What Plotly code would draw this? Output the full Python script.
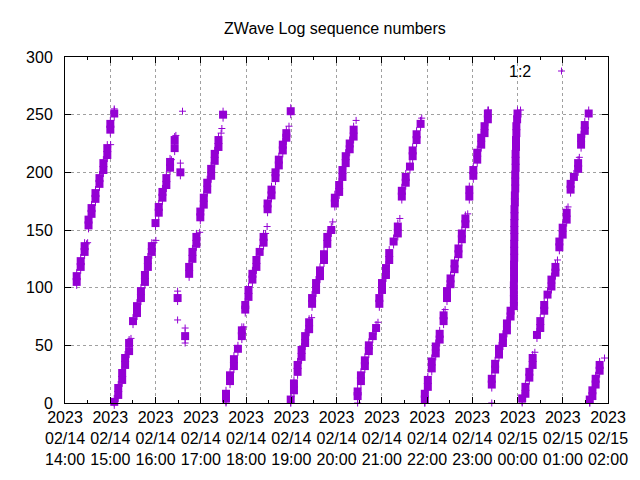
import pandas as pd
import plotly.graph_objects as go

# ---- data ----
# bursts of consecutive sequence numbers: (minutes after 2023-02-14 14:00, centre seq)
burst_min = [
    15.5, 15.5, 20.8, 20.8, 26, 26, 31.2, 31.2, 35.2, 35.2, 40.4, 40.4, 45.7, 45.7, 50.9, 50.9, 56.1, 56.1, 60.1, 60.1, 65.3,
    65.3, 70.6, 70.6, 75.8, 75.8, 79.7, 79.7, 85, 85, 90.2, 95.5, 95.5, 100.7, 100.7, 106, 106, 109.9, 109.9, 115.1, 115.1,
    120, 124.3, 124.3, 129.2, 129.2, 134.4, 134.4, 139.3, 139.3, 145.4, 145.4,
    149.3, 153, 159.3,
    164.6, 164.6, 169, 169, 174.2, 174.2,
    179.4, 179.4, 184, 184, 188.6, 188.6, 193.8, 193.8, 198.5, 198.5, 203.5, 203.5, 209.6,
    213.5, 213.5, 218.8, 218.8, 224, 224, 229.3, 234.5, 234.5, 239, 239, 243.3, 243.3, 248.5, 248.5, 253.8, 253.8, 258.1, 263.3, 263.3,
    268.6, 268.6, 273.8, 273.8, 279.1, 279.1, 283.5, 283.5, 288.8, 288.8, 293.5, 293.5, 299.3,
    299.3, 303.6, 303.6, 308.4, 308.4, 313.7, 313.7, 318.4, 318.4, 323.7, 323.7,
    327.6, 327.6, 332.9, 332.9, 338.1, 338.1, 343.4, 343.4, 347.8, 347.8, 353.1, 357.8, 357.8, 363.5, 363.5, 367.9, 367.9,
    372.2, 372.2, 377.5, 377.5, 382.7, 382.7,
    388, 388, 392.4, 392.4, 397.6, 397.6, 402.9, 402.9, 408.1, 412.5,
    416.8, 416.8, 420.3, 420.3, 425.6, 425.6, 429.9, 429.9, 435.7, 441.3, 441.3,
    446.6, 446.6, 451.8, 451.8, 457.4, 461, 461, 466.2, 466.2, 471.5,
    477.1, 477.1, 481.1, 481.1, 486.3, 486.3, 491.6, 491.6, 496.8, 496.8, 502, 502,
    506.5, 506.5, 511.2, 511.2, 516.5, 516.5, 521.7, 521.7, 526.2, 526.2, 530.9, 530.9,
    536.1, 536.1, 541.4, 541.4, 546.6, 546.6, 551.9, 551.9, 556.3, 556.3, 560.7, 560.7,
    565.9, 565.9, 570.3, 570.3, 575.5, 575.5, 580.7, 580.7, 586, 586, 590.8, 590.8, 595.2,
    595.2, 595.2, 595.2, 595.4, 595.4, 595.4, 595.6, 595.6, 595.6, 595.8, 595.8, 595.8, 596, 596, 596.5, 596.5,
    597, 597, 597, 597.5, 597.5, 597.5, 598, 598, 598.5, 598.5, 599.5, 600,
    606.2, 610.5, 610.5, 615.7, 615.7, 620.1, 620.1,
    625.8, 630.2, 630.2, 635.4, 635.4, 639.8, 645, 645, 650.3, 650.3,
    655.5, 655.5, 659.9, 659.9, 665.2, 665.2,
    670.4, 670.4, 674.8, 680.4, 680.4, 684.3, 684.3, 689.2, 689.2, 694.4,
    695.8, 699.3, 699.3, 703.6, 703.6, 708.9, 708.9,
]
burst_seq = [
    105, 110, 118, 123, 131, 136, 154, 159, 164, 169, 177, 182, 190, 195, 202, 208, 215, 221, 237, 242, 251,
    1, 7, 13, 20, 26, 33, 39, 45, 52, 71, 78, 84, 91, 97, 105, 111, 118, 124, 131, 136,
    156, 165, 170, 178, 183, 189, 195, 204, 209, 221, 228,
    91, 200, 58,
    112, 118, 125, 131, 138, 144,
    161, 166, 172, 178, 185, 191, 197, 203, 210, 216, 222, 228, 250,
    4, 8, 19, 24, 32, 38, 47, 58, 63, 81, 85, 92, 98, 107, 112, 118, 124, 131, 139, 144,
    168, 173, 180, 185, 195, 200, 206, 211, 219, 224, 230, 234, 253,
    3, 11, 17, 27, 33, 40, 46, 52, 58, 64, 70,
    86, 91, 98, 104, 110, 115, 124, 129, 138, 144, 150, 173, 178, 183, 189, 196, 202,
    208, 214, 220, 225, 231, 237,
    6, 10, 19, 24, 32, 37, 45, 50, 58, 65,
    86, 91, 98, 104, 111, 117, 124, 130, 140, 147, 153,
    179, 184, 191, 196, 205, 214, 219, 228, 233, 242,
    3, 8, 14, 20, 30, 36, 43, 49, 55, 60, 71, 76,
    91, 97, 103, 108, 116, 121, 129, 134, 142, 147, 155, 160,
    179, 185, 197, 202, 211, 217, 224, 230, 234, 240, 246, 251,
    16, 21, 29, 34, 42, 47, 52, 57, 63, 69, 75, 80, 84,
    90, 96, 102, 108, 114, 120, 126, 132, 138, 144, 150, 156, 162, 168, 174, 180,
    186, 192, 198, 204, 210, 216, 222, 228, 234, 240, 246, 251,
    4, 8, 14, 22, 27, 33, 39,
    59, 65, 71, 80, 85, 94, 101, 107, 113, 118,
    135, 140, 146, 152, 159, 165,
    185, 190, 196, 203, 208, 224, 230, 236, 241, 251,
    3, 6, 11, 16, 21, 28, 33,
]

# isolated single messages
single_min = [
    28.5, 30, 60.5, 65.3,
    65.3, 87.5, 118, 120.5,
    141, 147,
    149.3, 149.3, 153, 155.8, 159.3, 159.3,
    178.6, 207, 208,
    213.5, 237, 266, 268,
    297,
    299.3, 327,
    355, 386,
    388, 415,
    444, 473,
    477.1, 504, 534, 561.5,
    565.9, 595.2, 604,
    606.2, 623, 653, 667, 682,
    695.8, 715.4,
]
single_seq = [
    138, 139, 224, 255,
    0, 56, 139, 141,
    211, 232,
    97, 72, 208, 253, 65, 52,
    148, 234, 238,
    0, 66, 147, 153,
    240,
    0, 74,
    157, 245,
    0, 70,
    160, 247,
    0, 81, 164, 254,
    0, 87, 254,
    0, 44, 124, 170, 213,
    0, 39,
]

hour_ticks = ["14:00", "15:00", "16:00", "17:00", "18:00", "19:00", "20:00",
              "21:00", "22:00", "23:00", "00:00", "01:00", "02:00"]
tick_dates = ["02/14"] * 10 + ["02/15"] * 3

t0 = pd.Timestamp("2023-02-14 14:00")
bx = t0 + pd.to_timedelta(burst_min, unit="m")
sx = t0 + pd.to_timedelta(single_min, unit="m")
tickvals = [t0 + pd.Timedelta(hours=i) for i in range(len(hour_ticks))]
ticktext = [f"2023<br>{d}<br>{h}" for d, h in zip(tick_dates, hour_ticks)]

PURPLE = "#9400D3"
FONT = "Liberation Sans, Arial, sans-serif"

fig = go.Figure()
# bursts: filled block with vertical arms (stack of '+' marks)
fig.add_trace(go.Scatter(x=bx, y=burst_seq, mode="markers", cliponaxis=False,
                         marker=dict(symbol="square", size=8, color=PURPLE, line=dict(width=0)),
                         showlegend=False, hoverinfo="skip"))
fig.add_trace(go.Scatter(x=bx, y=burst_seq, mode="markers", cliponaxis=False,
                         marker=dict(symbol="line-ns", size=10, color=PURPLE,
                                     line=dict(width=1, color=PURPLE)),
                         showlegend=False, hoverinfo="skip"))
fig.add_trace(go.Scatter(x=sx, y=single_seq, mode="markers", cliponaxis=False,
                         marker=dict(symbol="cross-thin", size=5, color=PURPLE,
                                     line=dict(width=1, color=PURPLE)),
                         showlegend=False))

grid = dict(showgrid=True, gridcolor="#a0a0a0", gridwidth=1, griddash="3px,3px")
fig.update_xaxes(type="date", range=[tickvals[0], tickvals[-1]],
                 tickmode="array", tickvals=tickvals, ticktext=ticktext,
                 ticks="inside", ticklen=6, tickcolor="black",
                 showline=True, linecolor="black", linewidth=1, mirror="allticks",
                 minor=dict(dtick=1800000, ticks="inside", ticklen=3, tickcolor="black", showgrid=False),
                 tickfont=dict(family=FONT, size=16, color="black"),
                 zeroline=False, **grid)
fig.update_yaxes(range=[0, 300], dtick=50, tick0=0,
                 ticks="inside", ticklen=6, tickcolor="black",
                 showline=True, linecolor="black", linewidth=1, mirror="allticks",
                 tickfont=dict(family=FONT, size=16, color="black"),
                 ticklabelstandoff=8,
                 zeroline=False, **grid)

fig.update_layout(
    width=640, height=480,
    margin=dict(l=65, r=26, t=57, b=77),
    paper_bgcolor="white", plot_bgcolor="white",
    title=dict(text="ZWave Log sequence numbers", x=0.5234, xref="container", xanchor="center",
               y=1 - 28 / 480, yref="container", yanchor="middle",
               font=dict(family=FONT, size=16, color="black")),
    showlegend=False,
    font=dict(family=FONT, size=16, color="black"),
)

# key (gnuplot style: label then sample)
kx, ky = 0.9144, 0.9595
fig.add_annotation(text="1:2", xref="paper", yref="paper", x=0.8615, y=ky,
                   xanchor="right", yanchor="middle", showarrow=False,
                   font=dict(family=FONT, size=16, color="black"))
fig.add_shape(type="line", xref="paper", yref="paper", x0=kx - 0.0064, x1=kx + 0.0064, y0=ky, y1=ky,
              line=dict(color=PURPLE, width=1))
fig.add_shape(type="line", xref="paper", yref="paper", x0=kx, x1=kx, y0=ky - 0.0101, y1=ky + 0.0101,
              line=dict(color=PURPLE, width=1))

fig.write_html("out.html")
